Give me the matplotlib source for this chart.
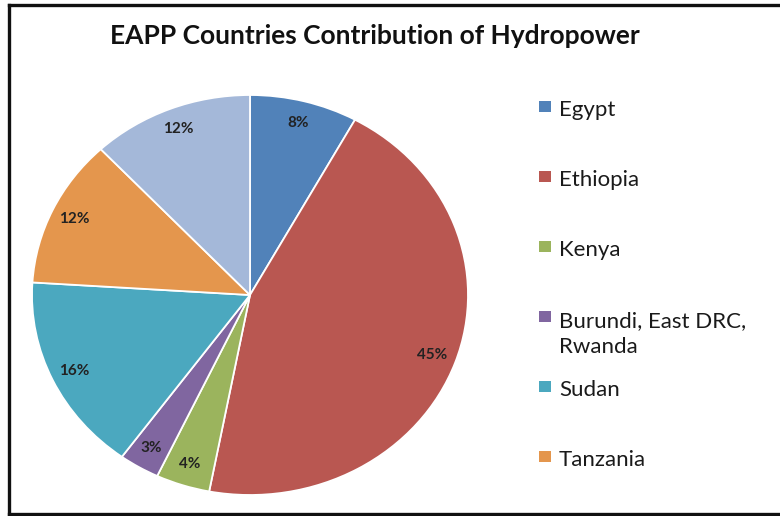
import matplotlib
matplotlib.use('Agg')
import matplotlib.pyplot as plt
from matplotlib.lines import Line2D
from matplotlib.patches import Rectangle

title = "EAPP Countries Contribution of Hydropower"
countries = ["Egypt", "Ethiopia", "Kenya", "Burundi, East DRC,\nRwanda",
             "Sudan", "Tanzania", "Uganda"]
shares = [8, 45, 4, 3, 16, 12, 12]
colors = ["#5182B9", "#B95751", "#9BB45D", "#8066A0", "#4BA8BF", "#E4964D", "#A4B8D9"]
legend_count = 6  # the reference legend is cut off after six entries

plt.rcParams['font.family'] = ['Lato', 'DejaVu Sans']

W, H = 780, 516
fig = plt.figure(figsize=(W / 100, H / 100), dpi=100)
fig.patch.set_facecolor('white')


def fx(x):
    return x / W


def fy(y):
    return 1 - y / H


# pie axes (the reference pie is slightly elliptical)
ax = fig.add_axes([fx(32), fy(495), (468 - 32) / W, (495 - 95) / H])
wedges, texts, autotexts = ax.pie(
    shares, colors=colors, startangle=90, counterclock=False,
    autopct='%.0f%%', pctdistance=0.89,
    wedgeprops=dict(edgecolor='white', linewidth=1.3),
    textprops=dict(fontsize=11, fontweight='bold', color='#222222'))
ax.set_aspect('auto')
ax.set_xlim(-1, 1)
ax.set_ylim(-1, 1)
ax.axis('off')

# title
fig.text(fx(375), fy(44), title, ha='center', va='baseline',
         fontsize=19, fontweight='bold', color='#111111')

# legend (manual, matching the reference spacing)
line_step = 27
for i in range(legend_count):
    ytop = 101 + 70 * i
    label = countries[i]
    nlines = label.count('\n') + 1
    fig.add_artist(Rectangle((fx(539), fy(ytop + 11)), 12 / W, 11 / H,
                             transform=fig.transFigure, facecolor=colors[i],
                             edgecolor='none'))
    fig.text(fx(559), fy(ytop + 15 + line_step * (nlines - 1)), label,
             ha='left', va='baseline', fontsize=16, color='#1a1a1a',
             linespacing=1.4)

# frame lines (left, top, bottom; right side is cut off in the reference)
for (x0, y0, x1, y1) in [(9, 5, 9, 514), (9, 5, 780, 5), (9, 514, 780, 514)]:
    fig.add_artist(Line2D([fx(x0), fx(x1)], [fy(y0), fy(y1)],
                          transform=fig.transFigure, color='#111111',
                          linewidth=2.4, solid_capstyle='projecting'))

fig.savefig('out.png', dpi=100, facecolor='white')
